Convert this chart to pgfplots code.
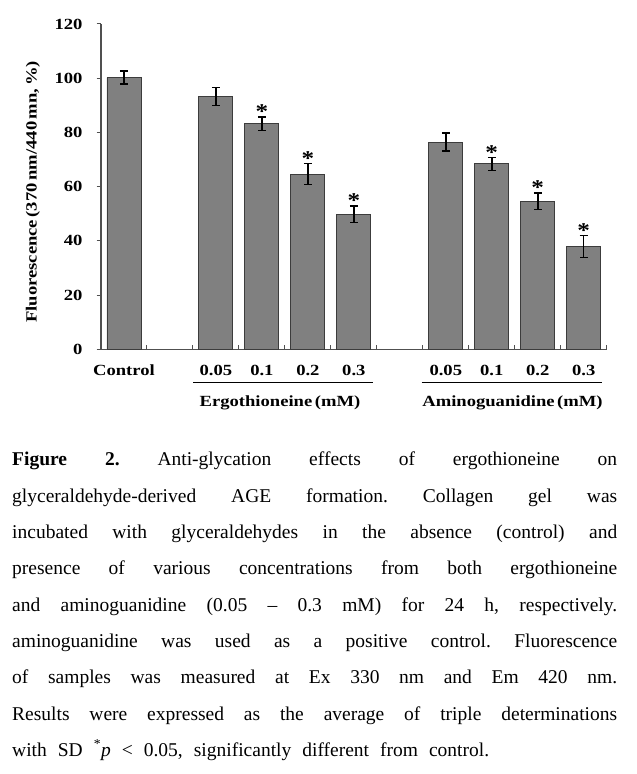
\documentclass[border=0pt]{standalone}
\usepackage{pgfplots}
\pgfplotsset{compat=1.18}
\usepackage{fontspec}
\setmainfont{Liberation Serif}
\newfontfamily\chartfont[FakeStretch=1.2]{Liberation Serif}
\definecolor{barfill}{RGB}{128,128,128}
\definecolor{baredge}{RGB}{60,60,60}
\definecolor{axisgray}{RGB}{80,80,80}
\newcommand{\cf}{\chartfont\bfseries\fontsize{15.5bp}{18bp}\selectfont}
\begin{document}
\begin{tikzpicture}[x=1bp,y=1bp]
\path[use as bounding box] (0,0) rectangle (637,774);
\begin{axis}[
  at={(101bp,424.7bp)}, anchor=south west,
  scale only axis, width=505.7bp, height=325.3bp,
  xmin=-0.5, xmax=10.5, ymin=0, ymax=120,
  axis x line*=bottom, axis y line*=left,
  axis line style={-, line width=1.2bp, draw=axisgray},
  ytick={0,20,...,120},
  /pgf/number format/assume math mode=true,
  xtick={0.5,1.5,...,10.5}, xticklabels={},
  extra x ticks={0,2,3,4,5,7,8,9,10},
  extra x tick labels={Control,0.05,0.1,0.2,0.3,0.05,0.1,0.2,0.3},
  extra x tick style={major tick length=0pt},
  xtick align=inside, ytick align=outside,
  major tick length=4.3bp,
  tick style={line width=1bp, axisgray},
  ticklabel style={font=\cf},
  xticklabel style={anchor=base, yshift=-26.7bp},
  yticklabel style={anchor=east, inner sep=0pt, xshift=-14bp},
  clip=false,
]
\addplot[ybar, bar width=34bp, fill=barfill, draw=baredge, line width=0.9bp,
  error bars/.cd, y dir=both, y explicit,
  error bar style={line width=1.5bp, black},
  error mark options={rotate=90, mark size=4bp, line width=1.5bp, black}]
coordinates {
  (0,100.2) +- (0,2.4)
  (2,93.3) +- (0,3.3)
  (3,83.2) +- (0,2.5)
  (4,64.6) +- (0,3.9)
  (5,49.8) +- (0,3.0)
  (7,76.4) +- (0,3.3)
  (8,68.4) +- (0,2.4)
  (9,54.6) +- (0,3.0)
  (10,37.9) +- (0,4.0)
};
\addplot[only marks, mark=text, text mark={\chartfont\bfseries\fontsize{21bp}{22bp}\selectfont *}, black]
coordinates {
  (3,87.6) (4,70.4) (5,54.7) (8,72.7) (9,59.5) (10,43.8)
};
\end{axis}
\draw[line width=1.5bp] (193,391.3) -- (372.7,391.3);
\draw[line width=1.5bp] (421.7,391.3) -- (601.7,391.3);
\node[font=\cf] at (280,370.7) {Ergothioneine\,(mM)};
\node[font=\cf] at (512.5,370.7) {Aminoguanidine\,(mM)};
\node[font=\cf, rotate=90] at (33,582) {Fluorescence\,(370\,nm/440\,mn,\,\%)};
\node[anchor=base west, inner sep=0pt, text width=605bp, align=justify,
  font=\fontsize{19.5bp}{36.3bp}\selectfont] at (12,308) {%
\frenchspacing
\spaceskip=11bp plus 40bp minus 3bp \tolerance=10000 \hbadness=10000
\hyphenpenalty=10000 \exhyphenpenalty=10000
\textbf{Figure 2.} Anti-glycation effects of ergothioneine on\linebreak
glyceraldehyde-derived AGE formation. Collagen gel was\linebreak
incubated with glyceraldehydes in the absence (control) and\linebreak
presence of various concentrations from both ergothioneine\linebreak
and aminoguanidine (0.05 -- 0.3 mM) for 24 h, respectively.\linebreak
aminoguanidine was used as a positive control. Fluorescence\linebreak
of samples was measured at Ex 330 nm and Em 420 nm.\linebreak
Results were expressed as the average of triple determinations\linebreak
with SD \textsuperscript{*}\textit{p} < 0.05, significantly different from control.};
\end{tikzpicture}
\end{document}
